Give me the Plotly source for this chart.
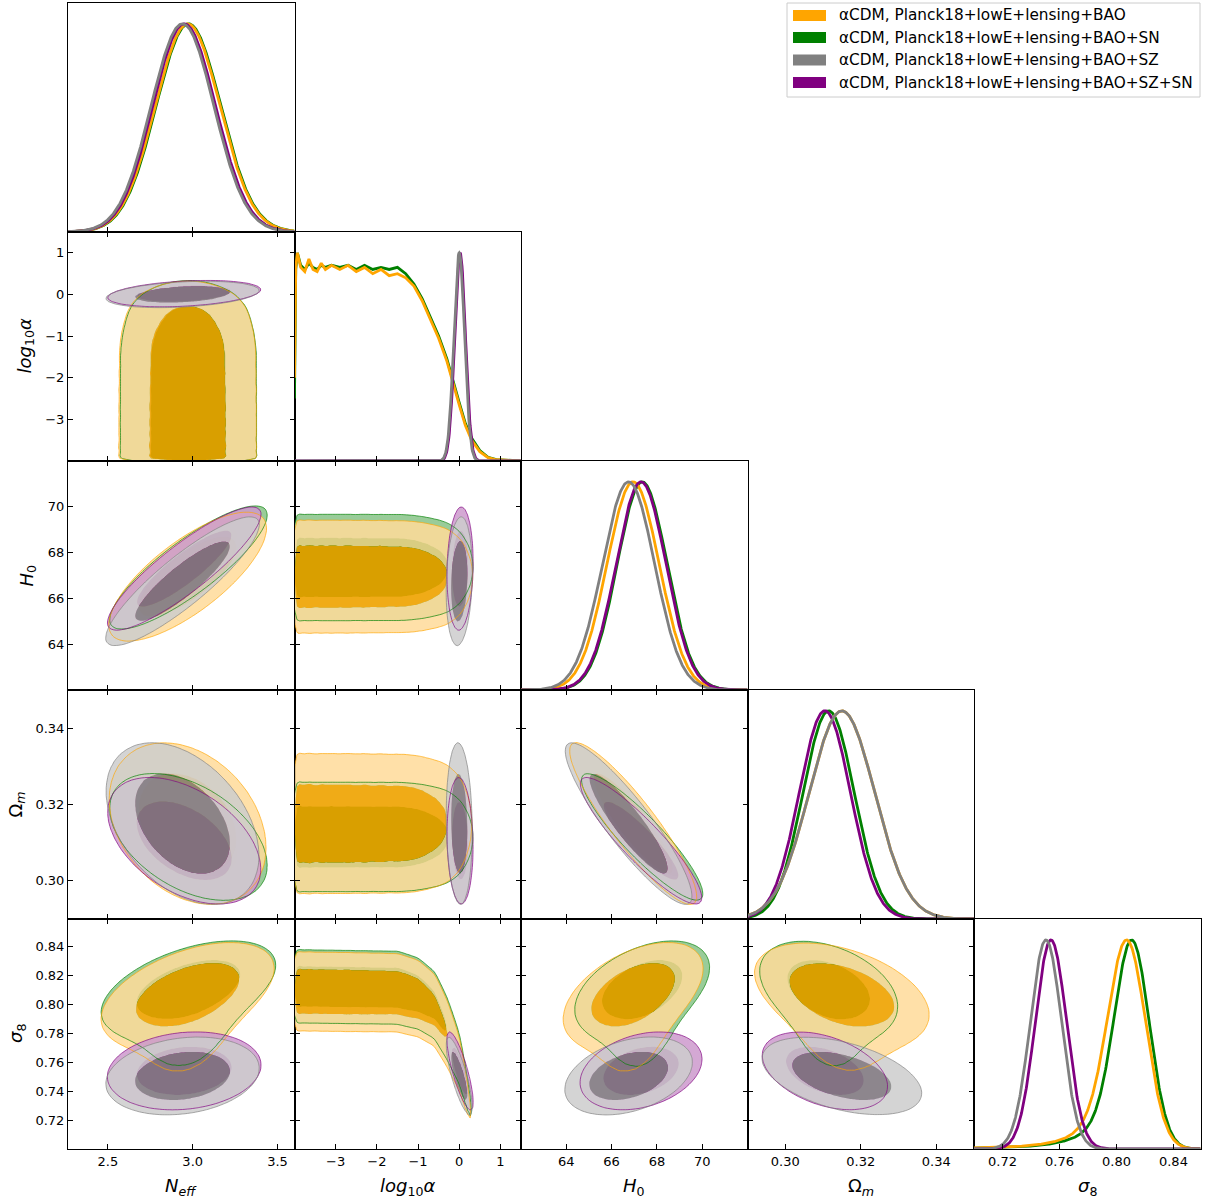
import numpy as np
import plotly.graph_objects as go

# ---------------- page geometry (pixels) ----------------
FIG_W, FIG_H = 1208, 1203
COL_EDGES = [68.0, 294.5, 521.0, 747.5, 974.0, 1200.5]
ROW_EDGES = [3.0, 232.0, 461.0, 690.0, 919.0, 1149.0]

# ---------------- parameters ----------------
PARAM_LABELS = [
    "<i>N</i><sub><i>eff</i></sub>",
    "<i>log</i><sub>10</sub><i>α</i>",
    "<i>H</i><sub>0</sub>",
    "Ω<sub><i>m</i></sub>",
    "<i>σ</i><sub>8</sub>",
]
PARAM_RANGES = [[2.265, 3.60], [-4.0, 1.5], [62.0, 72.0], [0.290, 0.350], [0.700, 0.859]]
X_TICKS = [[2.5, 3.0, 3.5], [-3, -2, -1, 0, 1], [64, 66, 68, 70], [0.30, 0.32, 0.34],
           [0.72, 0.76, 0.80, 0.84]]
X_TICK_TEXT = [["2.5", "3.0", "3.5"], ["−3", "−2", "−1", "0", "1"], ["64", "66", "68", "70"],
               ["0.30", "0.32", "0.34"], ["0.72", "0.76", "0.80", "0.84"]]
Y_TICKS = [None, [-3, -2, -1, 0, 1], [64, 66, 68, 70], [0.30, 0.32, 0.34],
           [0.72, 0.74, 0.76, 0.78, 0.80, 0.82, 0.84]]
Y_TICK_TEXT = [None, ["−3", "−2", "−1", "0", "1"], ["64", "66", "68", "70"],
               ["0.30", "0.32", "0.34"], ["0.72", "0.74", "0.76", "0.78", "0.80", "0.82", "0.84"]]
Y_TITLE_X = [None, 25, 27, 16, 17]

# ---------------- chains ----------------
SERIES_NAMES = [
    "αCDM, Planck18+lowE+lensing+BAO",
    "αCDM, Planck18+lowE+lensing+BAO+SN",
    "αCDM, Planck18+lowE+lensing+BAO+SZ",
    "αCDM, Planck18+lowE+lensing+BAO+SZ+SN",
]
SERIES_RGB = [(255, 165, 0), (0, 128, 0), (128, 128, 128), (128, 0, 128)]
PALE_FACTOR = 0.6
FILL_ALPHA = [0.85, 1.0, 0.85, 0.85]
DRAW_ORDER = [1, 0, 3, 2]

# marginal summaries (Neff, H0, Omega_m, sigma8; log10 alpha for the SZ runs)
NEFF_MEAN = [2.970, 2.975, 2.940, 2.950]
NEFF_STD = [0.190, 0.190, 0.185, 0.185]
H0_MEAN = [66.95, 67.35, 66.75, 67.30]
H0_STD = [1.15, 1.10, 1.15, 1.10]
OMM_MEAN = [0.3150, 0.3115, 0.3150, 0.3105]
OMM_STD = [0.0087, 0.0068, 0.0087, 0.0068]
S8_MEAN = [0.8090, 0.8125, 0.7505, 0.7540]
S8_STD = [0.0130, 0.0120, 0.0110, 0.0110]
LOGA_MEAN = [None, None, 0.00, 0.02]
LOGA_STD = [None, None, 0.13, 0.13]

# log10 alpha marginals of the runs without SZ (peak normalised)
LOGA_GRID = [-4.00, -3.97, -3.93, -3.85, -3.75, -3.65, -3.55, -3.45, -3.35, -3.25, -3.10,
             -2.90, -2.70, -2.50, -2.30, -2.10, -1.90, -1.70, -1.50, -1.30, -1.10, -0.90,
             -0.70, -0.50, -0.30, -0.15, 0.00, 0.15, 0.30, 0.50, 0.70, 0.90, 1.20, 1.50]
LOGA_BAO = [0.40, 0.93, 1.00, 0.93, 0.91, 0.97, 0.92, 0.91, 0.95, 0.92, 0.94,
            0.92, 0.94, 0.91, 0.93, 0.90, 0.92, 0.89, 0.90, 0.88, 0.84, 0.77,
            0.68, 0.59, 0.48, 0.37, 0.27, 0.17, 0.10, 0.045, 0.016, 0.006, 0.002, 0.0]
LOGA_BAO_SN = [0.30, 0.92, 1.00, 0.94, 0.92, 0.95, 0.93, 0.92, 0.94, 0.93, 0.94,
               0.93, 0.94, 0.92, 0.94, 0.92, 0.93, 0.92, 0.93, 0.90, 0.85, 0.78,
               0.69, 0.60, 0.49, 0.38, 0.28, 0.18, 0.11, 0.05, 0.018, 0.007, 0.002, 0.0]

# shift of the sigma8 centre along log10 alpha for the runs without SZ
S8_DROP_LOGA = [-4.0, -1.5, -1.0, -0.6, -0.3, 0.0, 0.2, 0.5, 1.5]
S8_DROP = [0.000, 0.001, 0.005, 0.013, 0.029, 0.050, 0.075, 0.115, 0.300]

# pairwise correlations, parameter order (Neff, log10a, H0, Om, s8)
CORR_PAIRS = [
    {(0, 2): 0.75, (0, 3): -0.30, (0, 4): 0.50, (2, 3): -0.90, (2, 4): 0.50, (3, 4): -0.42},
    {(0, 2): 0.85, (0, 3): -0.45, (0, 4): 0.50, (2, 3): -0.90, (2, 4): 0.45, (3, 4): -0.38},
    {(0, 1): 0.30, (0, 2): 0.88, (0, 3): -0.40, (0, 4): 0.20, (1, 2): 0.15, (1, 3): -0.10,
     (1, 4): -0.80, (2, 3): -0.90, (2, 4): 0.35, (3, 4): -0.45},
    {(0, 1): 0.30, (0, 2): 0.88, (0, 3): -0.45, (0, 4): 0.15, (1, 2): 0.10, (1, 3): -0.10,
     (1, 4): -0.80, (2, 3): -0.90, (2, 4): 0.30, (3, 4): -0.40},
]
LOGA_KERNEL = 0.04
CONTOUR_MASS = [0.68, 0.95]
GRID_N = 90

TICK_FONT = dict(family="DejaVu Sans", size=13, color="black")
LABEL_FONT = dict(family="DejaVu Sans", size=18, color="black")
LEGEND_FONT = dict(family="DejaVu Sans", size=15.3, color="black")


def pale(rgb):
    return tuple(c + PALE_FACTOR * (255 - c) for c in rgb)


def rgba(rgb, a):
    return "rgba(%d,%d,%d,%.3f)" % (round(rgb[0]), round(rgb[1]), round(rgb[2]), a)


def mixture(s):
    """Gaussian mixture describing one chain in (Neff, log10a, H0, Om, s8)."""
    if LOGA_MEAN[s] is None:
        profile = [LOGA_BAO, LOGA_BAO_SN][s]
        ak = np.arange(-4.0, 1.5 + 1e-9, 0.02)
        w = np.interp(ak, LOGA_GRID, profile)
        means = np.zeros((len(ak), 5))
        means[:, 0] = NEFF_MEAN[s]
        means[:, 1] = ak
        means[:, 2] = H0_MEAN[s]
        means[:, 3] = OMM_MEAN[s]
        means[:, 4] = S8_MEAN[s] - np.interp(ak, S8_DROP_LOGA, S8_DROP)
        sd = np.array([NEFF_STD[s], LOGA_KERNEL, H0_STD[s], OMM_STD[s], S8_STD[s]])
    else:
        w = np.array([1.0])
        means = np.array([[NEFF_MEAN[s], LOGA_MEAN[s], H0_MEAN[s], OMM_MEAN[s], S8_MEAN[s]]])
        sd = np.array([NEFF_STD[s], LOGA_STD[s], H0_STD[s], OMM_STD[s], S8_STD[s]])
    R = np.eye(5)
    for (p, q), r in CORR_PAIRS[s].items():
        R[p, q] = R[q, p] = r
    return w / w.sum(), means, sd, R


MIX = [mixture(s) for s in range(4)]


def density2d(s, p, q, xs, ys):
    w, m, sd, R = MIX[s]
    r = R[p, q]
    X, Y = np.meshgrid(xs, ys)
    dx = (X[None] - m[:, p, None, None]) / sd[p]
    dy = (Y[None] - m[:, q, None, None]) / sd[q]
    Q = (dx * dx - 2 * r * dx * dy + dy * dy) / (1 - r * r)
    return np.tensordot(w, np.exp(-0.5 * Q), axes=1)


def density1d(s, p, xs):
    w, m, sd, R = MIX[s]
    d = (xs[None] - m[:, p, None]) / sd[p]
    return np.tensordot(w, np.exp(-0.5 * d * d), axes=1)


def hpd_levels(d):
    f = np.sort(d.ravel())[::-1]
    c = np.cumsum(f)
    c /= c[-1]
    return [f[np.searchsorted(c, m)] for m in CONTOUR_MASS]


def ax_names(n):
    return ("xaxis" if n == 1 else "xaxis%d" % n, "yaxis" if n == 1 else "yaxis%d" % n,
            "x" if n == 1 else "x%d" % n, "y" if n == 1 else "y%d" % n)


def level_fill(xs, ys, z, level, color, xref, yref):
    """Single-level filled contour: region with z above `level` painted in `color`."""
    return go.Contour(
        x=xs, y=ys, z=z, xaxis=xref, yaxis=yref, autocontour=False,
        contours=dict(start=level, end=level, size=1, coloring="fill", showlines=False),
        colorscale=[[0, "rgba(255,255,255,0)"], [1, color]],
        line=dict(width=0, smoothing=1.0), showscale=False, hoverinfo="skip")


fig = go.Figure()
layout = dict(width=FIG_W, height=FIG_H, margin=dict(l=0, r=0, t=0, b=0),
              plot_bgcolor="white", paper_bgcolor="white", showlegend=False)

panels = []
n = 0
for i in range(5):
    for j in range(i + 1):
        n += 1
        panels.append((i, j, n))
        xa_name, ya_name, xref, yref = ax_names(n)
        diag = i == j
        xdom = [COL_EDGES[j] / FIG_W, COL_EDGES[j + 1] / FIG_W]
        ydom = [1 - ROW_EDGES[i + 1] / FIG_H, 1 - ROW_EDGES[i] / FIG_H]
        layout[xa_name] = dict(
            domain=xdom, range=PARAM_RANGES[j], anchor=yref, showgrid=False, zeroline=False,
            showline=True, linecolor="black", linewidth=1, mirror=True if diag else "ticks",
            ticks="inside", ticklen=5, tickwidth=1, tickcolor="black",
            tickmode="array", tickvals=X_TICKS[j], ticktext=X_TICK_TEXT[j],
            showticklabels=(i == 4), tickfont=TICK_FONT, fixedrange=True)
        if diag:
            layout[ya_name] = dict(
                domain=ydom, range=[0, 1.1], anchor=xref, showgrid=False, zeroline=False,
                showline=True, linecolor="black", linewidth=1, mirror=True, ticks="",
                showticklabels=False, fixedrange=True)
        else:
            layout[ya_name] = dict(
                domain=ydom, range=PARAM_RANGES[i], anchor=xref, showgrid=False, zeroline=False,
                showline=True, linecolor="black", linewidth=1, mirror="ticks",
                ticks="inside", ticklen=5, tickwidth=1, tickcolor="black",
                tickmode="array", tickvals=Y_TICKS[i], ticktext=Y_TICK_TEXT[i],
                showticklabels=(j == 0), tickfont=TICK_FONT, fixedrange=True)

# ---------------- 2D filled contours (68% and 95%) ----------------
for (i, j, n) in panels:
    if i == j:
        continue
    _, _, xref, yref = ax_names(n)
    xs = np.linspace(PARAM_RANGES[j][0], PARAM_RANGES[j][1], GRID_N)
    ys = np.linspace(PARAM_RANGES[i][0], PARAM_RANGES[i][1], GRID_N)
    fields = {}
    for s in DRAW_ORDER:
        d = density2d(s, j, i, xs, ys)
        l68, l95 = hpd_levels(d)
        # log-density rescaled so the 95% contour sits at 1 and the 68% one at 2
        zt = 1 + np.log(np.maximum(d, l95 * 1e-4) / l95) / np.log(l68 / l95)
        fields[s] = np.round(zt, 2)
    for s in DRAW_ORDER:
        rgb = SERIES_RGB[s]
        a = FILL_ALPHA[s]
        ring = np.round(1.5 - np.abs(fields[s] - 1.5), 2)   # >1 only between the two contours
        fig.add_trace(level_fill(xs, ys, ring, 1, rgba(pale(rgb), a), xref, yref))
        fig.add_trace(level_fill(xs, ys, fields[s], 2, rgba(rgb, a), xref, yref))
    for s in DRAW_ORDER:
        fig.add_trace(go.Contour(
            x=xs, y=ys, z=fields[s], xaxis=xref, yaxis=yref, autocontour=False,
            contours=dict(start=1, end=1, size=1, coloring="none"),
            line=dict(color=rgba(SERIES_RGB[s], 0.75), width=0.9, smoothing=1.0),
            showscale=False, hoverinfo="skip"))

# ---------------- 1D marginals ----------------
for (i, j, n) in panels:
    if i != j:
        continue
    _, _, xref, yref = ax_names(n)
    xs = np.linspace(PARAM_RANGES[j][0], PARAM_RANGES[j][1], 500)
    for s in DRAW_ORDER:
        if j == 1 and LOGA_MEAN[s] is None:
            xv = np.array(LOGA_GRID)
            yv = np.array([LOGA_BAO, LOGA_BAO_SN][s])
        else:
            xv = xs
            yv = density1d(s, j, xs)
        yv = yv / yv.max()
        fig.add_trace(go.Scatter(x=xv, y=yv, xaxis=xref, yaxis=yref, mode="lines",
                                 line=dict(color=rgba(SERIES_RGB[s], 1), width=2.8),
                                 hoverinfo="skip"))

# ---------------- axis titles ----------------
annotations = []
for j in range(5):
    annotations.append(dict(
        text=PARAM_LABELS[j], x=(COL_EDGES[j] + COL_EDGES[j + 1]) / 2 / FIG_W,
        y=1 - 1187 / FIG_H, xref="paper", yref="paper", showarrow=False,
        xanchor="center", yanchor="middle", font=LABEL_FONT))
for i in range(1, 5):
    annotations.append(dict(
        text=PARAM_LABELS[i], x=Y_TITLE_X[i] / FIG_W,
        y=1 - (ROW_EDGES[i] + ROW_EDGES[i + 1]) / 2 / FIG_H, xref="paper", yref="paper",
        showarrow=False, textangle=-90, xanchor="center", yanchor="middle", font=LABEL_FONT))

# ---------------- legend ----------------
shapes = []
LEG_X0, LEG_X1, LEG_Y0, LEG_Y1 = 787, 1200, 3, 97
shapes.append(dict(type="rect", xref="paper", yref="paper",
                   x0=LEG_X0 / FIG_W, x1=LEG_X1 / FIG_W, y0=1 - LEG_Y1 / FIG_H, y1=1 - LEG_Y0 / FIG_H,
                   line=dict(color="#cccccc", width=1), fillcolor="rgba(255,255,255,0.8)",
                   layer="above"))
LEG_ROWS = [15.5, 37.5, 60.0, 82.5]
for k in range(4):
    yc = LEG_ROWS[k]
    shapes.append(dict(type="rect", xref="paper", yref="paper",
                       x0=793 / FIG_W, x1=826 / FIG_W, y0=1 - (yc + 5.5) / FIG_H, y1=1 - (yc - 5.5) / FIG_H,
                       line=dict(width=0), fillcolor=rgba(SERIES_RGB[k], 1), layer="above"))
    annotations.append(dict(text=SERIES_NAMES[k], x=837 / FIG_W, y=1 - yc / FIG_H,
                            xref="paper", yref="paper", showarrow=False, xanchor="left",
                            yanchor="middle", font=LEGEND_FONT))

layout["annotations"] = annotations
layout["shapes"] = shapes
fig.update_layout(**layout)
fig.write_html("out.html")
